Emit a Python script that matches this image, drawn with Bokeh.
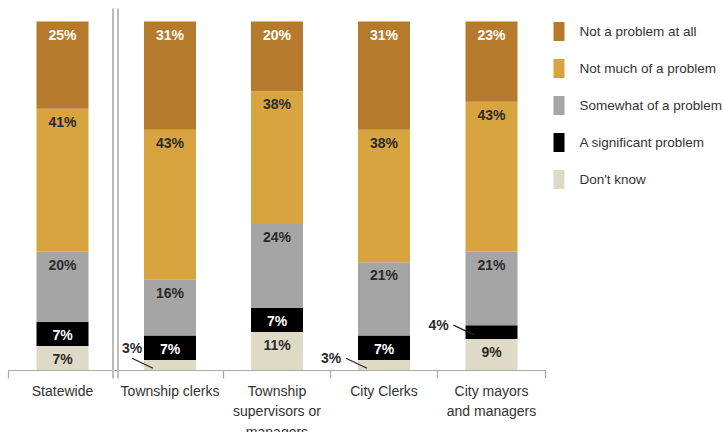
import numpy as np
from bokeh.plotting import figure
from bokeh.models import Range1d
from bokeh.core.properties import value
from bokeh.embed import file_html
from bokeh.resources import INLINE

# ---------------- data ----------------
categories = ["Statewide", "Township clerks", "Township\nsupervisors or\nmanagers",
              "City Clerks", "City mayors\nand managers"]
series = ["Don't know", "A significant problem", "Somewhat of a problem",
          "Not much of a problem", "Not a problem at all"]
dont_know = [7, 3, 11, 3, 9]
significant = [7, 7, 7, 7, 4]
somewhat = [20, 16, 24, 21, 21]
not_much = [41, 43, 38, 38, 43]
not_at_all = [25, 31, 20, 31, 23]
values = [dont_know, significant, somewhat, not_much, not_at_all]

colors = ["#DFDAC5", "#000000", "#A5A5A5", "#D8A43F", "#B67A2D"]
label_colors = ["#2B2B2B", "#FFFFFF", "#2B2B2B", "#2B2B2B", "#FFFFFF"]

# ---------------- layout (pixels) ----------------
W, H = 723, 432
Y0 = 370          # pixel row of the baseline
PPU = 3.49        # pixels per percentage point
group_left = [8, 118, 223, 330, 437]
group_right = [112, 223, 330, 437, 545]
BAR_W = 52
FONT = "Liberation Sans"

def py(p):
    """pixel row -> data y"""
    return (Y0 - p) / PPU

p = figure(width=W, height=H, output_backend="svg", toolbar_location=None,
           x_range=Range1d(0, W), y_range=Range1d(py(H), py(0)),
           x_axis_location=None, y_axis_location=None, min_border=0)
p.outline_line_color = None
p.grid.visible = False
p.background_fill_color = "white"

centers = [(a + b) / 2 + d for a, b, d in zip(group_left, group_right, [2, -1, 0, 0, 0])]

vals = np.array(values, dtype=float)          # series x categories
tops = np.cumsum(vals, axis=0)
bottoms = tops - vals

for s in range(len(series)):
    p.vbar(x=centers, width=BAR_W, bottom=bottoms[s], top=tops[s],
           fill_color=colors[s], line_color=None)

# separators / axis
p.segment(x0=[8], y0=[py(Y0)], x1=[545], y1=[py(Y0)], line_color="#A9A9A9", line_width=1.2)
ticks = [8, 223, 330, 437, 545]
p.segment(x0=ticks, y0=[py(Y0)] * len(ticks), x1=ticks, y1=[py(378)] * len(ticks),
          line_color="#A9A9A9", line_width=1.2)
p.segment(x0=[112.5, 117.5], y0=[py(8)] * 2, x1=[112.5, 117.5], y1=[py(378)] * 2,
          line_color="#BDBDBD", line_width=2)

# value labels
in_x, in_y, in_t, in_c = [], [], [], []
outside_offsets = {(1, 0): (0, -10), (3, 0): (-15, 0), (4, 1): (-15, 0)}
for c in range(len(categories)):
    for s in range(len(series)):
        v = vals[s, c]
        if v >= 5:
            in_x.append(centers[c]); in_y.append(tops[s, c])
            in_t.append(f"{int(v)}%"); in_c.append(label_colors[s])
        else:
            bar_left = centers[c] - BAR_W / 2
            ex = bar_left + 9
            ey_px = Y0 - (bottoms[s, c] + v / 2) * PPU + 3
            sx, sy_px = ex - 21, ey_px - 10
            p.segment(x0=[sx], y0=[py(sy_px)], x1=[ex], y1=[py(ey_px)],
                      line_color="#222222", line_width=1.2)
            dx, dy = outside_offsets.get((c, s), (-15, 0))
            p.text(x=[sx + dx], y=[py(sy_px + dy)], text=[f"{int(v)}%"],
                   text_font=value(FONT), text_font_style="bold", text_font_size="14px",
                   text_color="#2B2B2B", text_align="center", text_baseline="middle")

p.text(x=in_x, y=in_y, text=in_t, text_color=in_c, y_offset=13,
       text_font=value(FONT), text_font_style="bold", text_font_size="14px",
       text_align="center", text_baseline="middle")

# category labels
p.text(x=centers, y=[0] * len(categories), text=categories, y_offset=12.5,
       text_font=value(FONT), text_font_size="14px", text_color="#333333",
       text_align="center", text_baseline="top", text_line_height=1.28)

# legend (drawn manually, top item = last series)
leg_y_px = [31 + 37 * i for i in range(len(series))]
order = list(range(len(series)))[::-1]
p.rect(x=[558.5] * len(series), y=[py(v) for v in leg_y_px], width=11, height=19 / PPU,
       fill_color=[colors[s] for s in order], line_color=None)
p.text(x=[579] * len(series), y=[py(v) for v in leg_y_px], text=[series[s] for s in order],
       text_font=value(FONT), text_font_size="13.5px", text_color="#333333",
       text_align="left", text_baseline="middle")

open("out.html", "w").write(file_html(p, INLINE))
